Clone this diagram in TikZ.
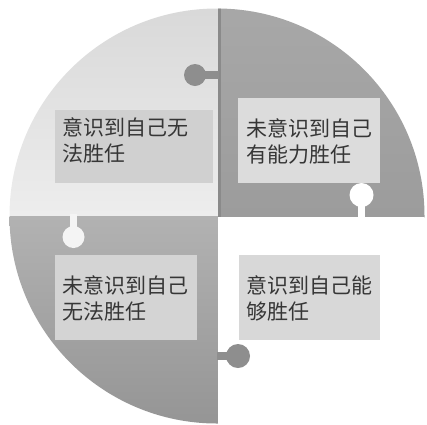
\documentclass[tikz,border=0pt]{standalone}
\usepackage{fontspec}
\newfontfamily\cjk{Noto Sans CJK SC}
\definecolor{tltop}{HTML}{D8D8D8}
\definecolor{tlbot}{HTML}{EDEDED}
\definecolor{trtop}{HTML}{A8A8A8}
\definecolor{trbot}{HTML}{9C9C9C}
\definecolor{bltop}{HTML}{B2B2B2}
\definecolor{blbot}{HTML}{959595}
\definecolor{brbg}{HTML}{FFFFFF}
\definecolor{tlbox}{HTML}{D0D0D0}
\definecolor{trbox}{HTML}{DCDCDC}
\definecolor{blbox}{HTML}{D4D4D4}
\definecolor{brbox}{HTML}{D8D8D8}
\definecolor{knobdark}{HTML}{8E8E8E}
\definecolor{knoblight}{HTML}{F4F4F4}
\definecolor{seam}{HTML}{8A8A8A}
\definecolor{txt}{HTML}{363636}
\begin{document}
\begin{tikzpicture}[x=1pt,y=-1pt,
  boxstyle/.style={draw=none,inner sep=0pt,anchor=north west},
  label text/.style={inner sep=0pt,anchor=base west,text width=150pt,align=left,
    text=txt,font=\cjk\fontsize{21}{26.5}\selectfont}]
\useasboundingbox (0,0) rectangle (427,424);
\begin{scope}
\clip (217,216) circle [radius=207.5];
\shade[top color=tltop,bottom color=tlbot] (0,0) rectangle (218,216);
\shade[top color=trtop,bottom color=trbot] (218,0) rectangle (427,217);
\shade[top color=bltop,bottom color=blbot] (0,216) rectangle (218,424);
\fill[brbg] (218,217) rectangle (427,424);
\fill[seam] (218,0) rectangle (221,217);
% knobs
\fill[knobdark] (195,75) circle [radius=11];
\fill[knobdark] (195,71) rectangle (219,79);
\fill[white] (361.5,195) circle [radius=12];
\fill[white] (358,195) rectangle (365,218);
\fill[knoblight] (73.5,237) circle [radius=11];
\fill[knoblight] (70,214) rectangle (77,237);
\fill[knobdark] (238,356) circle [radius=12];
\fill[knobdark] (217,352) rectangle (238,360);
\end{scope}
% boxes
\node[boxstyle,fill=tlbox,minimum width=158pt,minimum height=73pt] (tlb) at (55,110) {};
\node[boxstyle,fill=trbox,minimum width=142pt,minimum height=85pt] (trb) at (238,98) {};
\node[boxstyle,fill=blbox,minimum width=142pt,minimum height=85pt] (blb) at (55,255) {};
\node[boxstyle,fill=brbox,minimum width=141pt,minimum height=85pt] (brb) at (239,255) {};
% texts
\node[label text] (tlt) at (62,135) {意识到自己无\\法胜任};
\node[label text] (trt) at (246,136) {未意识到自己\\有能力胜任};
\node[label text] (blt) at (62,293) {未意识到自己\\无法胜任};
\node[label text] (brt) at (246,293) {意识到自己能\\够胜任};
\end{tikzpicture}
\end{document}
